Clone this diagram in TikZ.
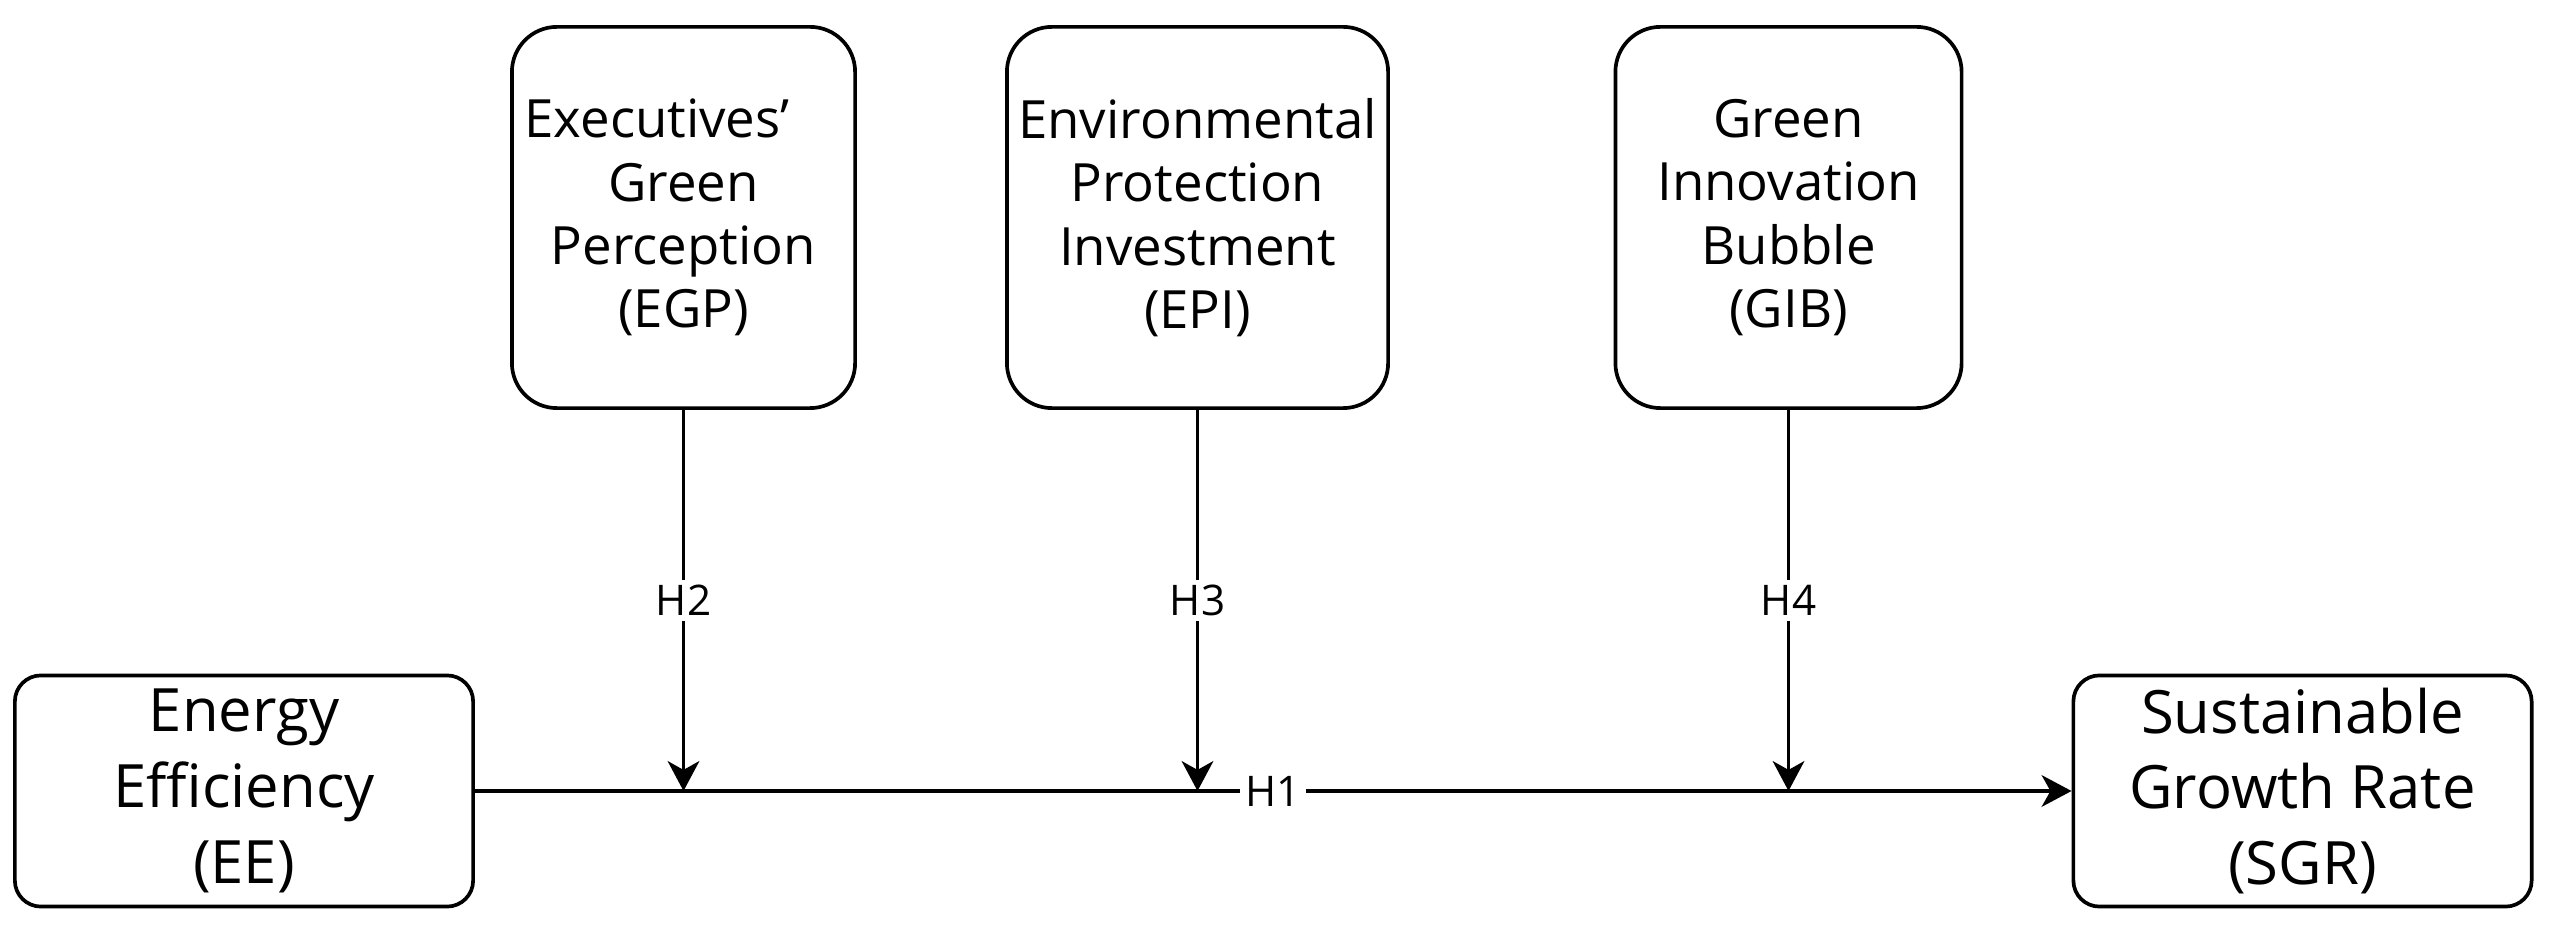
\documentclass[tikz,border=0pt]{standalone}
\usepackage{fontspec}
\setmainfont{Open Sans}
\usetikzlibrary{arrows.meta}
\begin{document}
\begin{tikzpicture}[x=0.01cm,y=-0.01cm,
  topbox/.style={draw, line width=1.05pt, rounded corners=0.45cm, align=center, inner sep=0pt,
    minimum height=3.81cm, font=\fontsize{15}{18}\selectfont},
  botbox/.style={draw, line width=1.05pt, rounded corners=0.26cm, align=center, inner sep=0pt,
    minimum height=2.31cm, minimum width=4.58cm, font=\fontsize{17}{21.6}\selectfont},
  arr/.style={line width=0.9pt, -{Stealth[length=8.5pt,width=9pt,inset=2.5pt]}},
  lab/.style={fill=white, inner sep=1.5pt, font=\fontsize{12}{12}\selectfont}]
\useasboundingbox (0,0) rectangle (2549,925);
\node[topbox, minimum width=3.43cm] (EGP) at (683.5,217.5) {Executives’\hspace*{15pt}\\Green\\Perception\\(EGP)};
\node[topbox, minimum width=3.81cm] (EPI) at (1197.5,217.5) {Environmental\\Protection\\Investment\\(EPI)};
\node[topbox, minimum width=3.46cm] (GIB) at (1788.5,217.5) {Green\\Innovation\\Bubble\\(GIB)};
\node[botbox] (EE) at (244,791) {Energy\\Efficiency\\(EE)};
\node[botbox] (SGR) at (2302.5,791) {Sustainable\\Growth Rate\\(SGR)};
\coordinate (j2) at (EGP.south |- EE.east);
\coordinate (j3) at (EPI.south |- EE.east);
\coordinate (j4) at (GIB.south |- EE.east);
\draw[arr] (EE.east) -- node[lab]{H1} (SGR.west);
\draw[arr] (EGP.south) -- node[lab]{H2} (j2);
\draw[arr] (EPI.south) -- node[lab]{H3} (j3);
\draw[arr] (GIB.south) -- node[lab]{H4} (j4);
\end{tikzpicture}
\end{document}
